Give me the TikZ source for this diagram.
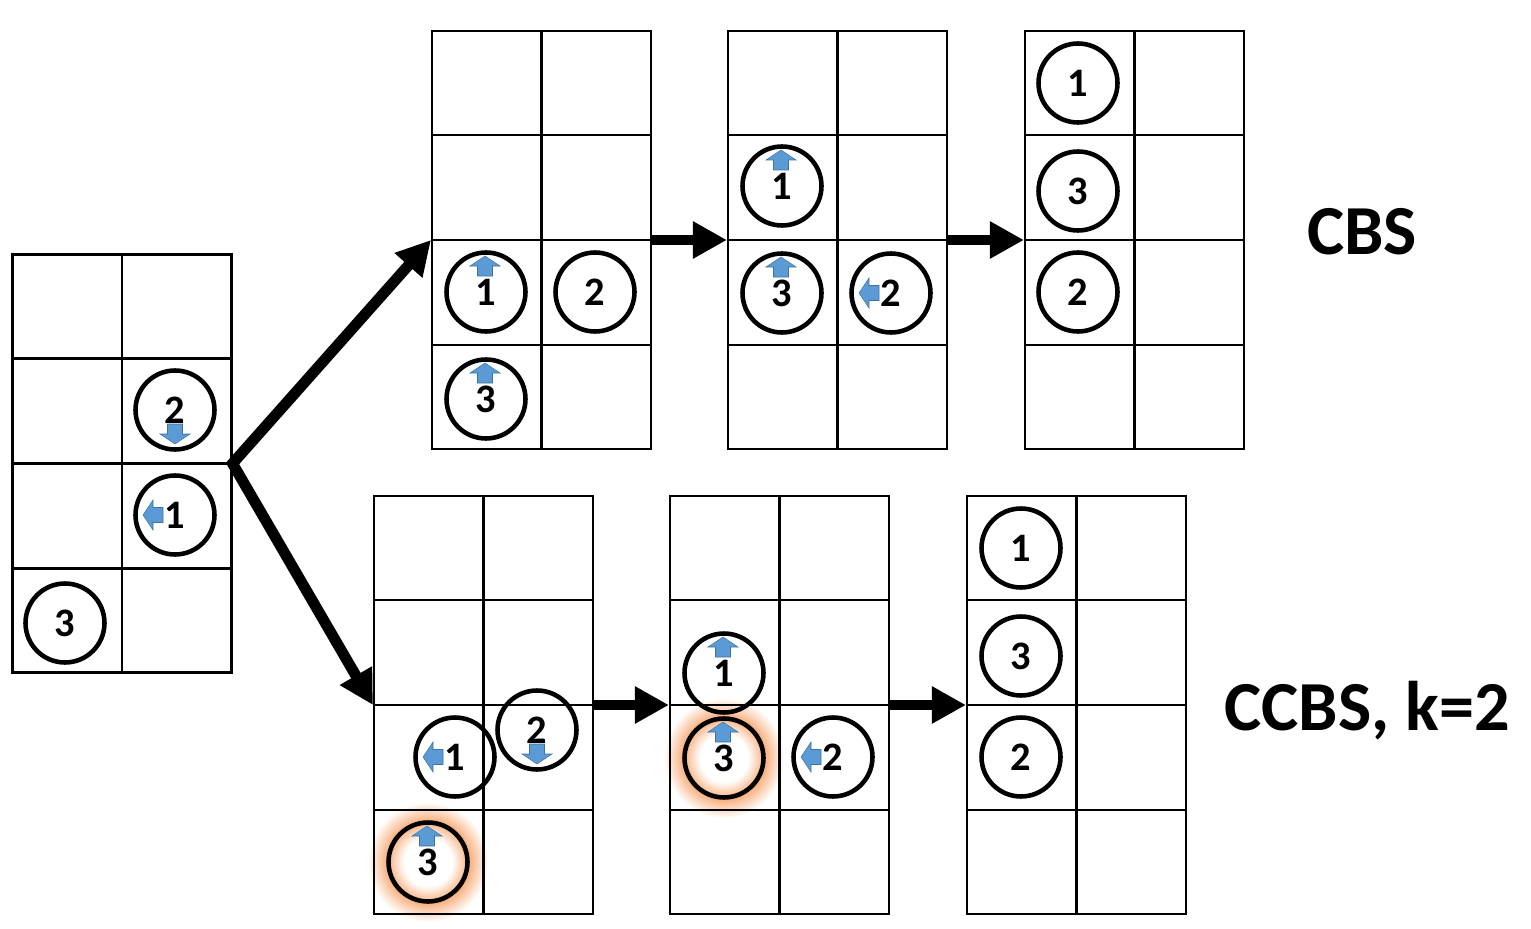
\documentclass[tikz,border=0pt]{standalone}
\usepackage{fontspec}
\setmainfont{Carlito}
\usetikzlibrary{arrows.meta,calc}

\definecolor{arrowblue}{RGB}{91,155,213}
\definecolor{arrowedge}{RGB}{65,113,156}
\definecolor{glowc}{RGB}{247,175,125}

% soft ring behind the highlighted agent
\pgfdeclareradialshading{glowring}{\pgfpoint{0bp}{0bp}}{%
  color(0bp)=(white); color(10bp)=(white); color(17bp)=(glowc);
  color(25bp)=(white); color(50bp)=(white)}

\begin{document}
\begin{tikzpicture}[
  x=0.02cm, y=-0.02cm,
  font=\bfseries,
  >={Triangle[length=0.68cm,width=0.7cm]},
  grid/.style={draw, line width=1.2pt, minimum width=4.38cm, minimum height=8.36cm, inner sep=0pt},
  gridline/.style={line width=1.2pt},
  agent/.style={circle, draw, line width=2.6pt, minimum size=1.58cm, inner sep=0pt,
    font=\fontsize{23}{26}\selectfont\bfseries},
  bigarrow/.style={line width=6.2pt, line join=miter},
  blockarr/.pic={\draw[fill=arrowblue, draw=arrowedge, line width=0.3pt]
    (0,-10) -- (15,0) -- (7.5,0) -- (7.5,10) -- (-7.5,10) -- (-7.5,0) -- (-15,0) -- cycle;},
  title/.style={font=\fontsize{40}{48}\selectfont\bfseries, inner sep=0pt}
]
\useasboundingbox (0,0) rectangle (1531,929);

% glow behind agent 3 (CCBS row)
\shade[shading=glowring] (428,862) circle[radius=1.2cm];
\shade[shading=glowring] (724,758) circle[radius=1.2cm];

% ----------------------------- grids -----------------------------
\foreach \g/\cx/\cy in {g0/122/463.5, t1/541.5/240, t2/837.5/240, t3/1134.5/240,
                        b1/483.5/705, b2/779.5/705, b3/1076.5/705}
  {
    \node[grid] (\g) at (\cx,\cy) {};
    \draw[gridline] (\g.north) -- (\g.south);
    \foreach \f in {0.25,0.5,0.75}
      \draw[gridline] ($(\g.north west)!\f!(\g.south west)$) -- ($(\g.north east)!\f!(\g.south east)$);
  }

% ----------------------------- agents -----------------------------
% plain agents
\foreach \n/\x/\y/\d in {g0a3/65/623/3, t1a2/595/292/2,
    t3a1/1078/83/1, t3a3/1078/191/3, t3a2/1078/292/2,
    b3a1/1021/548/1, b3a3/1021/656/3, b3a2/1021/757/2}
  \node[agent] (\n) at (\x,\y) {\d};

% agents moving up
\foreach \n/\x/\y/\d in {t1a1/486/292/1, t1a3/486/399/3, t2a1/782/186/1, t2a3/782/293/3,
    b1a3/428/862/3, b2a1/724/673/1, b2a3/724/758/3}
  {
    \node[agent] (\n) at (\x,\y) {\d};
    \pic at ($(\n)+(-1,-26)$) {blockarr};
  }

% agents moving left
\foreach \n/\x/\y/\d in {g0a1/175/515/1, t2a2/891/293/2, b1a1/455/757/1, b2a2/833/757/2}
  {
    \node[agent] (\n) at (\x,\y) {\d};
    \pic[rotate=90] at ($(\n)+(-22,0)$) {blockarr};
  }

% agents moving down
\foreach \n/\x/\y/\d in {g0a2/175/410/2, b1a2/537/730/2}
  {
    \node[agent] (\n) at (\x,\y) {\d};
    \pic[rotate=180] at ($(\n)+(0,24)$) {blockarr};
  }

% ----------------------------- arrows -----------------------------
\draw[bigarrow, <->] (t1.west) -- (g0.east) -- (b1.west);
\draw[bigarrow, ->] (t1.east) -- (t2.west);
\draw[bigarrow, ->] (t2.east) -- (t3.west);
\draw[bigarrow, ->] (b1.east) -- (b2.west);
\draw[bigarrow, ->] (b2.east) -- (b3.west);

% ----------------------------- labels -----------------------------
\node[title] (cbs) at (1362,232) {CBS};
\node[title] (ccbs) at (1367,711) {CCBS, k=2};

\end{tikzpicture}
\end{document}
